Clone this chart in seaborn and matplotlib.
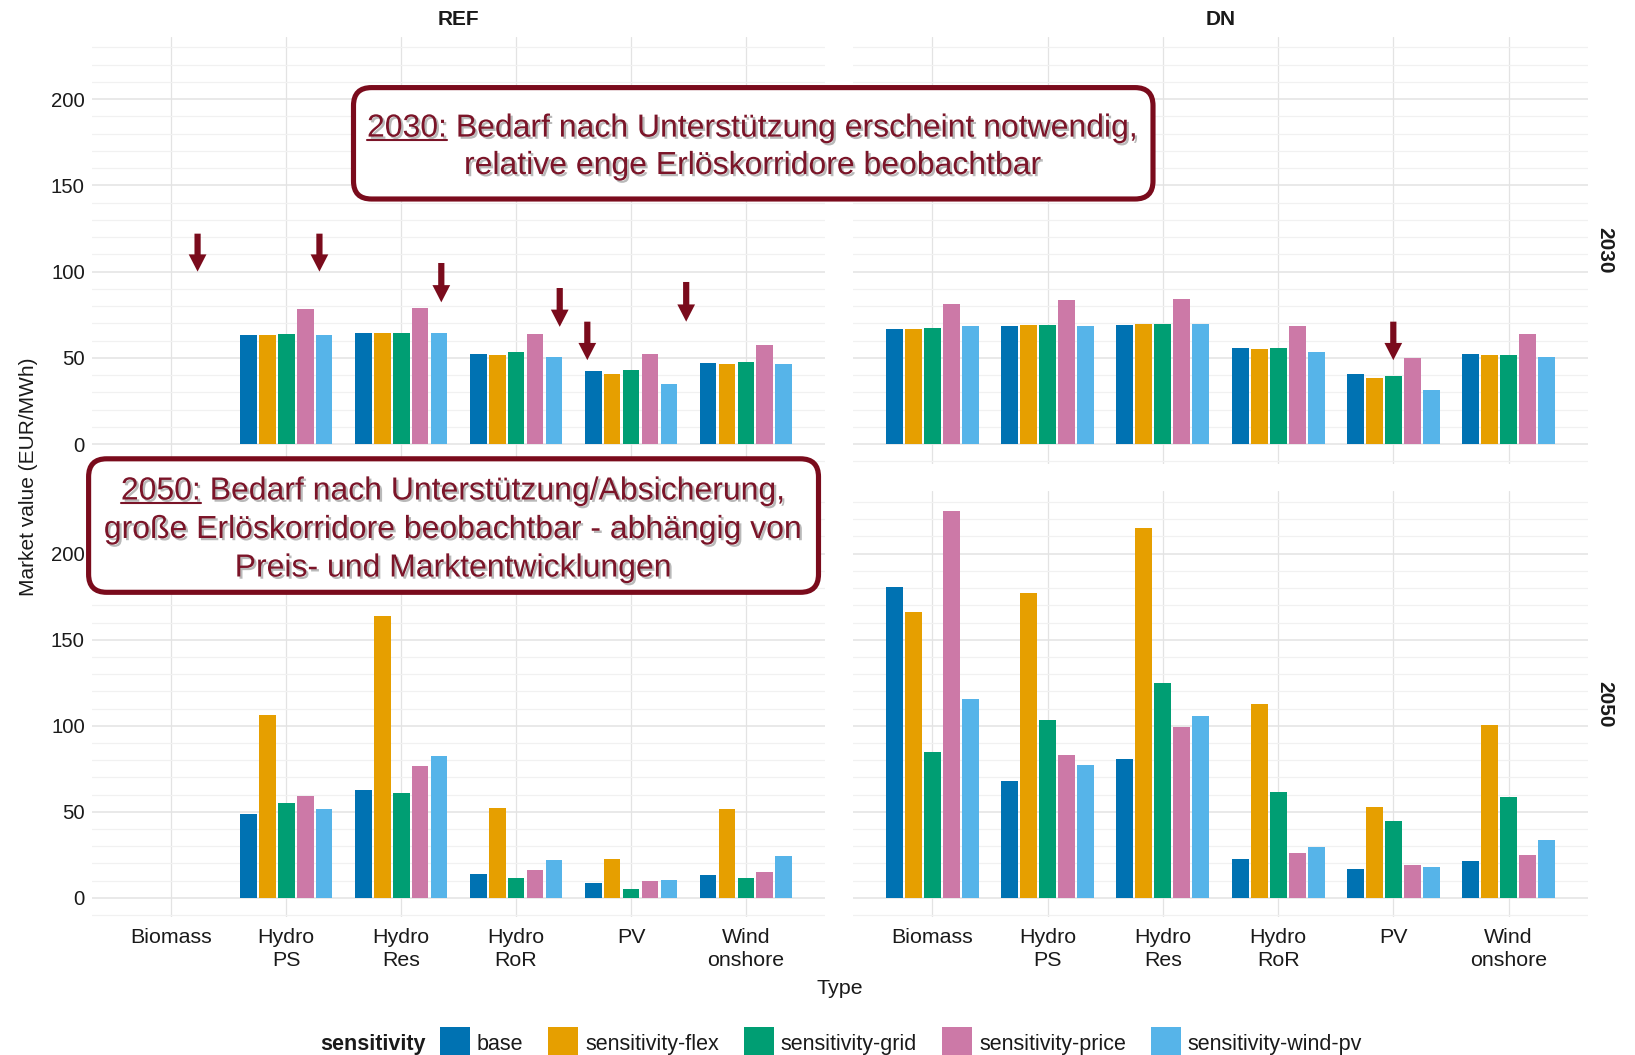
import numpy as np
import pandas as pd
import matplotlib
matplotlib.use("Agg")
import matplotlib.pyplot as plt
import matplotlib.patheffects as pe
from matplotlib.patches import FancyBboxPatch, Rectangle
from matplotlib.lines import Line2D
from matplotlib.transforms import IdentityTransform
import seaborn as sns

nan = np.nan
# ---------------- data ----------------
types = ["Biomass", "Hydro\nPS", "Hydro\nRes", "Hydro\nRoR", "PV", "Wind\nonshore"]
sensitivities = ["base", "sensitivity-flex", "sensitivity-grid",
                 "sensitivity-price", "sensitivity-wind-pv"]
palette = ["#0072B2", "#E69F00", "#009E73", "#CC79A7", "#56B4E9"]
scenarios = ["REF", "DN"]
years = ["2030", "2050"]

ref_2030 = {
    "base":                [nan, 63.5, 64.3, 52.3, 42.5, 47.3],
    "sensitivity-flex":    [nan, 63.5, 64.3, 51.9, 40.9, 46.5],
    "sensitivity-grid":    [nan, 63.9, 64.5, 53.3, 43.0, 47.9],
    "sensitivity-price":   [nan, 78.4, 79.2, 64.1, 52.3, 57.7],
    "sensitivity-wind-pv": [nan, 63.5, 64.7, 50.8, 34.6, 46.5],
}
dn_2030 = {
    "base":                [66.5, 68.7, 69.2, 56.0, 40.6, 52.5],
    "sensitivity-flex":    [66.9, 68.8, 69.4, 55.2, 38.5, 51.5],
    "sensitivity-grid":    [67.1, 68.8, 69.4, 55.6, 39.6, 51.5],
    "sensitivity-price":   [81.2, 83.7, 84.4, 68.5, 49.8, 64.0],
    "sensitivity-wind-pv": [68.3, 68.3, 69.6, 53.3, 31.5, 50.6],
}
ref_2050 = {
    "base":                [nan, 48.7, 62.7, 14.1, 8.5, 13.0],
    "sensitivity-flex":    [nan, 106.0, 163.6, 52.0, 22.8, 51.8],
    "sensitivity-grid":    [nan, 54.9, 60.9, 11.6, 5.2, 11.4],
    "sensitivity-price":   [nan, 59.4, 76.6, 16.4, 10.0, 15.1],
    "sensitivity-wind-pv": [nan, 51.8, 82.6, 22.0, 10.6, 24.6],
}
dn_2050 = {
    "base":                [180.8, 68.0, 80.8, 22.5, 16.7, 21.2],
    "sensitivity-flex":    [166.0, 177.0, 215.0, 112.4, 52.6, 100.6],
    "sensitivity-grid":    [84.9, 103.5, 124.7, 61.4, 44.7, 58.8],
    "sensitivity-price":   [225.0, 83.0, 99.0, 26.2, 19.2, 24.7],
    "sensitivity-wind-pv": [115.3, 77.0, 105.6, 29.5, 17.9, 33.4],
}
panel_data = {("REF", "2030"): ref_2030, ("DN", "2030"): dn_2030,
              ("REF", "2050"): ref_2050, ("DN", "2050"): dn_2050}

# annotation arrows: (panel, x in category units, arrow top value, arrow tip value)
arrow_specs = [
    (("REF", "2030"), 0.23, 122.0, 100.0),
    (("REF", "2030"), 1.29, 122.0, 100.0),
    (("REF", "2030"), 2.35, 105.0, 82.2),
    (("REF", "2030"), 3.38, 90.5, 68.0),
    (("REF", "2030"), 3.62, 71.0, 48.7),
    (("REF", "2030"), 4.48, 94.0, 71.0),
    (("DN", "2030"), 4.00, 71.0, 48.7),
]

box1_lines = ["2030: Bedarf nach Unterstützung erscheint notwendig,",
              "relative enge Erlöskorridore beobachtbar"]
box2_lines = ["2050: Bedarf nach Unterstützung/Absicherung,",
              "große Erlöskorridore beobachtbar - abhängig von",
              "Preis- und Marktentwicklungen"]

rows = []
for (sc, yr), d in panel_data.items():
    for s in sensitivities:
        for t, v in zip(types, d[s]):
            if not np.isnan(v):
                rows.append({"scenario": sc, "year": yr, "Type": t,
                             "sensitivity": s, "value": v})
df = pd.DataFrame(rows)

# ---------------- style ----------------
sns.set_style("white")
plt.rcParams["font.family"] = ["Liberation Sans", "DejaVu Sans"]
TXT = "#1a1a1a"
DARKRED = "#7A0B1C"
TEXTRED = "#7B1428"

W, H = 1635, 1055
fig = plt.figure(figsize=(W / 100, H / 100), dpi=100)
fig.patch.set_facecolor("white")


def px_axes(l, t, r, b):
    return fig.add_axes([l / W, 1 - b / H, (r - l) / W, (b - t) / H])


panel_px = {
    ("REF", "2030"): (91.8, 36.5, 825.3, 463.6),
    ("DN", "2030"): (853.0, 36.5, 1588.0, 463.6),
    ("REF", "2050"): (91.8, 491.3, 825.3, 917.2),
    ("DN", "2050"): (853.0, 491.3, 1588.0, 917.2),
}
axes = {}
for key, box in panel_px.items():
    ax = px_axes(*box)
    axes[key] = ax
    sc, yr = key
    sub = df[(df.scenario == sc) & (df.year == yr)]
    sns.barplot(data=sub, x="Type", y="value", hue="sensitivity",
                order=types, hue_order=sensitivities, palette=palette,
                saturation=1, width=0.825, gap=0.11, errorbar=None,
                legend=False, ax=ax, edgecolor="none", linewidth=0)
    ax.set_xlim(-0.69, 5.69)
    ax.set_ylim(-11.25, 236.25)
    ax.set_yticks([0, 50, 100, 150, 200])
    ax.set_yticks(np.arange(-10, 236, 10), minor=True)
    ax.set_axisbelow(True)
    ax.grid(True, which="major", axis="y", color="#E3E3E3", lw=1.1)
    ax.grid(True, which="minor", axis="y", color="#F1F1F1", lw=0.9)
    ax.grid(True, which="major", axis="x", color="#E3E3E3", lw=0.9)
    for sp in ax.spines.values():
        sp.set_visible(False)
    ax.tick_params(which="both", length=0)
    ax.tick_params(axis="y", labelsize=14.7, labelcolor=TXT, pad=5.0)
    ax.tick_params(axis="x", labelsize=15.4, labelcolor=TXT, pad=8)
    ax.set_xlabel("")
    ax.set_ylabel("")
    ax.set_facecolor("none")
    if yr == "2030":
        ax.set_xticklabels([])
    else:
        for lab in ax.get_xticklabels():
            lab.set_linespacing(1.27)
    if sc == "DN":
        ax.set_yticklabels([])

# arrows
for key, x, top, tip in arrow_specs:
    axes[key].annotate("", xy=(x, tip), xytext=(x, top),
                       arrowprops=dict(arrowstyle="simple,head_length=1.0,head_width=1.03,tail_width=0.36",
                                       mutation_scale=12.4, color=DARKRED, lw=0,
                                       shrinkA=0, shrinkB=0))

# strip labels
STRIPFS = 15
fig.text(458.5 / W, 1 - 19.2 / H, "REF", ha="center", va="center",
         fontsize=STRIPFS, fontweight="bold", color=TXT)
fig.text(1220.5 / W, 1 - 19.2 / H, "DN", ha="center", va="center",
         fontsize=STRIPFS, fontweight="bold", color=TXT)
fig.text(1605 / W, 1 - 250 / H, "2030", ha="center", va="center", rotation=-90,
         fontsize=STRIPFS, fontweight="bold", color=TXT)
fig.text(1605 / W, 1 - 704 / H, "2050", ha="center", va="center", rotation=-90,
         fontsize=STRIPFS, fontweight="bold", color=TXT)

# axis titles
fig.text(29 / W, 1 - 477 / H, "Market value (EUR/MWh)", ha="center", va="center",
         rotation=90, fontsize=15, color=TXT)
fig.text(840 / W, 1 - 989 / H, "Type", ha="center", va="center",
         fontsize=15.4, color=TXT)

# ---------------- annotation boxes ----------------
ID = IdentityTransform()


def add_box(x0, y0_td, x1, y1_td):
    b = H - y1_td
    t = H - y0_td
    p = FancyBboxPatch((x0, b), x1 - x0, t - b,
                       boxstyle="round,pad=0,rounding_size=18",
                       transform=ID, facecolor="white", edgecolor=DARKRED,
                       linewidth=3.7, zorder=5)
    fig.add_artist(p)


shadow = [pe.withSimplePatchShadow(offset=(1.6, -1.6), shadow_rgbFace="#808080", alpha=0.55)]
BOXFS = 23

add_box(353.5, 87.6, 1153.0, 199.0)
add_box(88.6, 458.8, 818.5, 592.3)

# (center x, baseline y measured from top, text, underlined prefix)
placed = [
    (753.0, 136.6, box1_lines[0], "2030:"),
    (753.0, 174.0, box1_lines[1], None),
    (453.5, 499.5, box2_lines[0], "2050:"),
    (453.5, 538.0, box2_lines[1], None),
    (453.5, 576.5, box2_lines[2], None),
]
fig.canvas.draw()
renderer = fig.canvas.get_renderer()
for x, y_td, s, ul in placed:
    yb = H - y_td
    t = fig.text(x, yb, s, transform=ID, ha="center", va="baseline",
                 fontsize=BOXFS, color=TEXTRED, zorder=6, path_effects=shadow)
    if ul:
        bb = t.get_window_extent(renderer)
        tmp = fig.text(0, 0, ul, transform=ID, fontsize=BOXFS)
        w = tmp.get_window_extent(renderer).width
        tmp.remove()
        fig.add_artist(Line2D([bb.x0, bb.x0 + w], [yb - 3.3, yb - 3.3],
                              transform=ID, color=TEXTRED, lw=1.5, zorder=6))

# ---------------- legend ----------------
LEGFS = 15.5
base_y = H - 1050  # text baseline (display coords)
key_top = H - 1026.7
x = 320
t = fig.text(x, base_y, "sensitivity", transform=ID, fontsize=LEGFS,
             fontweight="bold", color=TXT, va="baseline", ha="left")
x = t.get_window_extent(renderer).x1 + 14
for s, c in zip(sensitivities, palette):
    fig.add_artist(Rectangle((x, key_top - 30), 30, 30, transform=ID,
                             facecolor=c, edgecolor="none"))
    x += 30 + 7
    tt = fig.text(x, base_y, s, transform=ID, fontsize=LEGFS, color=TXT,
                  va="baseline", ha="left")
    x = tt.get_window_extent(renderer).x1 + 25

fig.savefig("out.png", dpi=100, facecolor="white")
